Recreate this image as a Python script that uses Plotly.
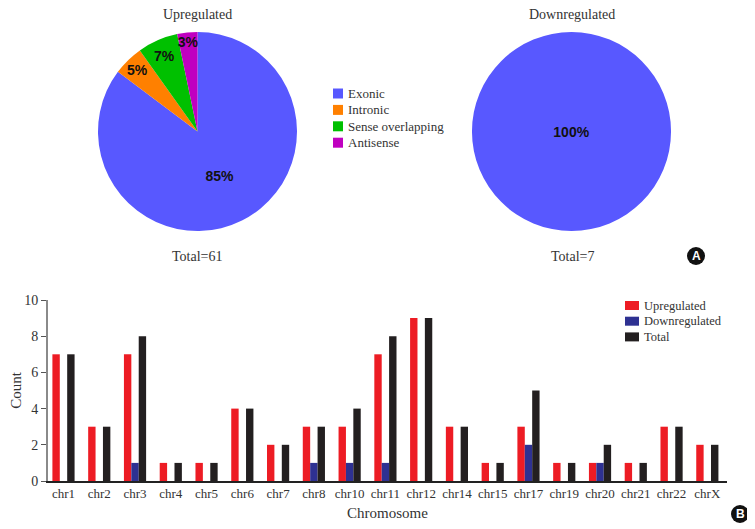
import plotly.graph_objects as go

# ---------------- data ----------------
pie_labels = ["Exonic", "Intronic", "Sense overlapping", "Antisense"]
up_counts = [52, 3, 4, 2]
down_counts = [7, 0, 0, 0]
pie_colors = ["#5858FF", "#FF8000", "#00C000", "#C000C0"]

chromosomes = ["chr1", "chr2", "chr3", "chr4", "chr5", "chr6", "chr7", "chr8", "chr10",
               "chr11", "chr12", "chr14", "chr15", "chr17", "chr19", "chr20", "chr21",
               "chr22", "chrX"]
upregulated = [7, 3, 7, 1, 1, 4, 2, 3, 3, 7, 9, 3, 1, 3, 1, 1, 1, 3, 2]
downregulated = [0, 0, 1, 0, 0, 0, 0, 1, 1, 1, 0, 0, 0, 2, 0, 1, 0, 0, 0]
total = [7, 3, 8, 1, 1, 4, 2, 3, 4, 8, 9, 3, 1, 5, 1, 2, 1, 3, 2]

bar_names = ["Upregulated", "Downregulated", "Total"]
bar_colors = ["#ED1C24", "#2E3192", "#231F20"]
y_ticks = [0, 2, 4, 6, 8, 10]

# page body has an 8px margin: size the figure to the remaining window area
OFF = 8
W, H = 755 - OFF, 529 - OFF
SERIF = "Liberation Serif"
SANS = "Liberation Sans"
TXT = "#333333"


def px(x):
    return (x - OFF) / W


def py(y):
    return 1 - (y - OFF) / H


def pct_templates(values):
    return ["<b>%{percent:.0%}</b>" if v > 0 else "" for v in values]


fig = go.Figure()

pie_common = dict(
    labels=pie_labels, sort=False, direction="clockwise", rotation=0,
    marker=dict(colors=pie_colors, line=dict(width=0)),
    textposition="inside", insidetextorientation="horizontal",
    textfont=dict(family=SANS, size=14, color="#111111"),
    showlegend=False, hoverinfo="label+value+percent",
)
fig.add_trace(go.Pie(values=up_counts, name="Upregulated", texttemplate=pct_templates(up_counts),
                     domain=dict(x=[px(98), px(297)], y=[py(231), py(32)]), **pie_common))
fig.add_trace(go.Pie(values=down_counts, name="Downregulated",
                     texttemplate=pct_templates(down_counts),
                     domain=dict(x=[px(472), px(671)], y=[py(231), py(32)]), **pie_common))

for name, vals, col in zip(bar_names, [upregulated, downregulated, total], bar_colors):
    fig.add_trace(go.Bar(
        x=chromosomes, y=vals, name=name, marker=dict(color=col, line=dict(width=0)),
        xaxis="x", yaxis="y", showlegend=False,
    ))

fig.update_layout(
    width=W, height=H,
    margin=dict(l=0, r=0, t=0, b=0, autoexpand=False),
    paper_bgcolor="white", plot_bgcolor="white",
    barmode="group", bargap=0.38, bargroupgap=0,
    font=dict(family=SERIF, size=13, color=TXT),
    uniformtext=dict(minsize=14, mode="show"),
    xaxis=dict(domain=[px(48), px(727)], range=[-0.433, 18.55], showgrid=False,
               showline=True, linecolor="#222222", linewidth=1.5, ticks="",
               tickfont=dict(family=SERIF, size=13, color=TXT),
               title=dict(text="Chromosome", font=dict(family=SERIF, size=15, color=TXT),
                          standoff=7),
               automargin=False, anchor="y", fixedrange=True),
    yaxis=dict(domain=[py(481), py(300)], range=[0, 10], tickvals=y_ticks, showgrid=False,
               zeroline=False,
               showline=True, linecolor="#8a8a8a", linewidth=2, ticks="outside", ticklen=5,
               tickcolor="#555555", tickwidth=1,
               tickfont=dict(family=SERIF, size=14, color=TXT),
               title=dict(text="Count", font=dict(family=SERIF, size=15, color=TXT),
                          standoff=20),
               automargin=False, anchor="x", fixedrange=True),
    showlegend=False,
)


# --- legends (swatch + label), built from the label/colour lists ---
def add_legend(labels, colors, x_sw, y0, dy, sw_w, sw_h, fsize):
    for i, (lab, col) in enumerate(zip(labels, colors)):
        yc = y0 + i * dy
        fig.add_shape(type="rect", xref="paper", yref="paper",
                      x0=px(x_sw), x1=px(x_sw + sw_w),
                      y0=py(yc + sw_h / 2), y1=py(yc - sw_h / 2),
                      fillcolor=col, line=dict(width=0))
        fig.add_annotation(text=lab, x=px(x_sw + sw_w + 3), y=py(yc), xref="paper", yref="paper",
                           showarrow=False, xanchor="left", yanchor="middle",
                           font=dict(family=SERIF, size=fsize, color=TXT))


add_legend(pie_labels, pie_colors, 333, 93.5, 16.4, 10, 10, 13)
add_legend(bar_names, bar_colors, 625, 305.5, 15.7, 14, 9, 12.5)

ann_font = dict(family=SERIF, size=14, color=TXT)
for text, x, y in [("Upregulated", 197, 14.5), ("Downregulated", 572, 14.5),
                   ("Total=61", 197, 256), ("Total=7", 572, 256)]:
    fig.add_annotation(text=text, x=px(x), y=py(y), xref="paper", yref="paper",
                       showarrow=False, font=ann_font, xanchor="center", yanchor="middle")

for letter, cx, cy in [("A", 696, 256), ("B", 740, 514)]:
    r = 9
    fig.add_shape(type="circle", xref="paper", yref="paper",
                  x0=px(cx - r), x1=px(cx + r), y0=py(cy + r), y1=py(cy - r),
                  fillcolor="#111111", line=dict(width=0))
    fig.add_annotation(text="<b>%s</b>" % letter, x=px(cx), y=py(cy), xref="paper", yref="paper",
                       showarrow=False, font=dict(family=SANS, size=12, color="white"),
                       xanchor="center", yanchor="middle")

fig.write_html("out.html")
